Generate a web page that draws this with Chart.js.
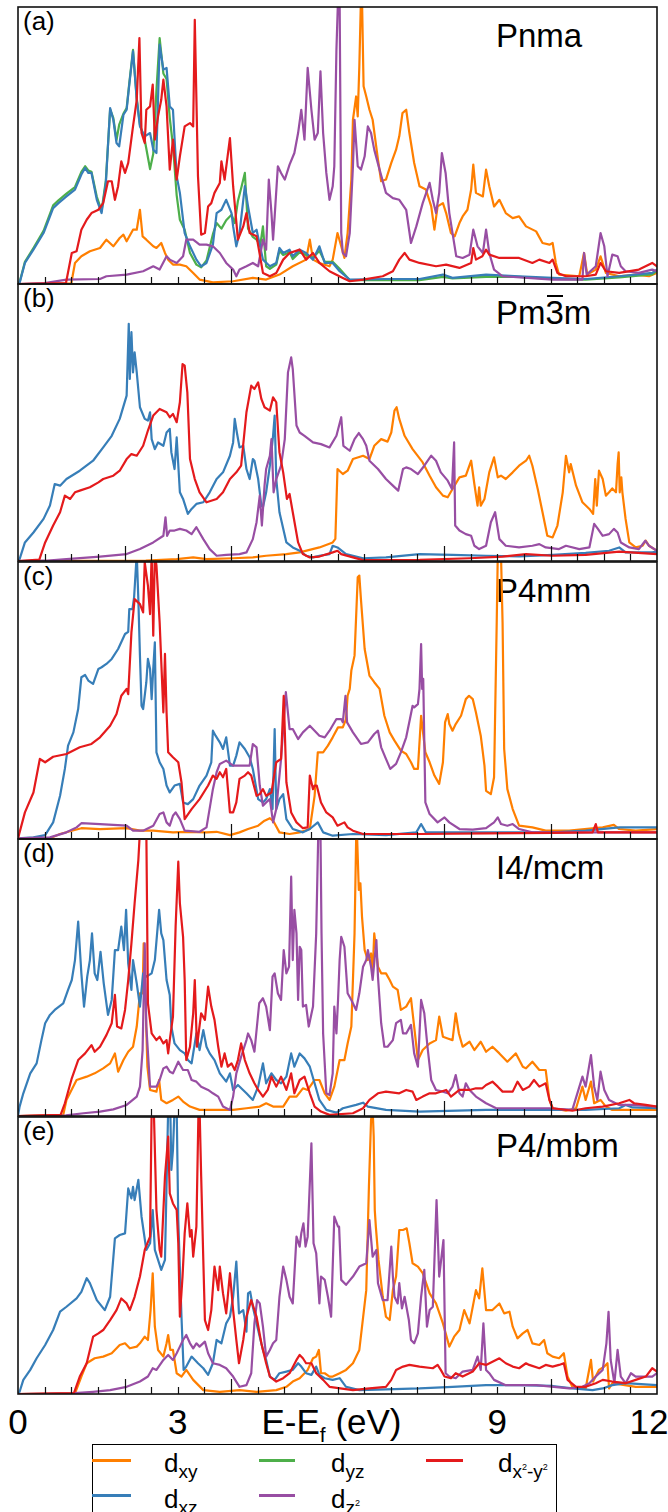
<!DOCTYPE html>
<html>
<head>
<meta charset="utf-8">
<title>Projected d-orbital DOS</title>
<script src="https://cdn.jsdelivr.net/npm/chart.js@4.4.1/dist/chart.umd.min.js"></script>
<style>
  html, body { margin: 0; padding: 0; background: #fff; }
  #fig { position: relative; width: 668px; height: 1512px; overflow: hidden; background: #fff;
         font-family: "Liberation Sans", Arial, sans-serif; color: #000; }
  #fig canvas { position: absolute; left: 0; z-index: 1; }
  .txt { position: absolute; white-space: nowrap; line-height: 1; z-index: 0; }
  .plabel { font-size: 26px; }
  .ptitle { font-size: 33px; }
  .ob { position: relative; }
  .ob::before { content: ""; position: absolute; left: 1px; right: 1px; top: 1px; height: 2px; background: #000; }
  .xt { font-size: 35px; transform: translateX(-50%); }
  .xt .s { font-size: 21px; position: relative; top: 8px; }
  #legendBox { position: absolute; left: 92px; top: 1444px; width: 463px; height: 100px;
               border: 1.5px solid #000; background: #fff; z-index: 2; }
  .hl { position: absolute; height: 3px; z-index: 3; }
  .lg { position: absolute; white-space: nowrap; line-height: 1; font-size: 26px; z-index: 3; }
  .lg .s { font-size: 19px; position: relative; top: 6px; }
  .lg .ss { font-size: 9px; position: relative; top: -8px; }
</style>
</head>
<body>
<div id="fig">
  <div id="legendBox"></div>
  <div class="hl" style="left:92px;top:1459px;width:39px;background:#ff7f00"></div>
  <div class="lg" style="left:164px;top:1450px">d<span class="s">xy</span></div>
  <div class="hl" style="left:259px;top:1459px;width:36px;background:#4daf4a"></div>
  <div class="lg" style="left:331px;top:1450px">d<span class="s">yz</span></div>
  <div class="hl" style="left:426px;top:1459px;width:37px;background:#e41a1c"></div>
  <div class="lg" style="left:498px;top:1450px">d<span class="s">x<span class="ss">2</span>-y<span class="ss">2</span></span></div>
  <div class="hl" style="left:92px;top:1494px;width:39px;background:#377eb8"></div>
  <div class="lg" style="left:164px;top:1486px">d<span class="s">xz</span></div>
  <div class="hl" style="left:259px;top:1494px;width:36px;background:#984ea3"></div>
  <div class="lg" style="left:331px;top:1486px">d<span class="s">z<span class="ss">2</span></span></div>
</div>
<script>
// ---- energy axis ----
const tickLabelValues = [0, 3, 9, 12];
const tickLabels = ['0', '3', '9', '12'];
const axisTitleValue = 6;
const minorTicks = [0.5, 1, 1.5, 2.5, 3, 3.5, 4.5, 5, 5.5, 6, 6.5, 7, 7.5, 8.5, 9, 9.5, 10.5, 11, 11.5];
const majorTicks = [2, 4, 8, 10];

const panelLetters = ['(a)', '(b)', '(c)', '(d)', '(e)'];
const phaseNames = ['Pnma', 'Pm<span class="ob">3</span>m', 'P4mm', 'I4/mcm', 'P4/mbm'];

// ---- (a) Pnma : [E - Ef (eV), PDOS (arb.)] ----
const pnmaXY = [[0,0],[1.0,0.2],[1.07,7.6],[1.19,10.0],[1.35,11.8],[1.54,13.0],[1.66,16.0],[1.79,13.6],[1.91,16.6],[1.98,17.8],[2.04,15.4],[2.16,19.6],[2.23,19.6],[2.29,26.8],[2.34,17.2],[2.41,16.0],[2.54,13.6],[2.6,13.0],[2.69,14.8],[2.76,11.2],[2.82,8.8],[2.91,7.0],[3.04,7.0],[3.16,6.4],[3.29,4.0],[3.41,1.6],[3.66,0.6],[4.04,1.0],[4.41,2.2],[4.66,1.6],[4.91,3.4],[5.16,6.4],[5.41,8.8],[5.48,16.0],[5.54,8.8],[5.66,7.6],[5.85,6.4],[5.91,8.8],[6.0,18.4],[6.07,13.6],[6.13,9.4],[6.19,18.4],[6.26,37.7],[6.29,59.3],[6.35,67.7],[6.38,60.5],[6.41,78.6],[6.44,103],[6.46,103],[6.49,71.4],[6.54,67.7],[6.6,62.9],[6.66,59.3],[6.76,44.9],[6.82,37.1],[6.91,37.7],[7.01,43.7],[7.1,48.5],[7.16,53.3],[7.22,61.7],[7.29,62.9],[7.35,54.5],[7.44,43.7],[7.54,35.3],[7.66,34.1],[7.76,28.0],[7.82,19.6],[7.88,28.0],[7.98,29.2],[8.04,25.6],[8.13,18.4],[8.2,17.2],[8.29,22.0],[8.35,24.4],[8.44,26.8],[8.51,34.1],[8.55,43.1],[8.6,32.9],[8.73,31.6],[8.79,41.3],[8.85,35.3],[8.94,28.0],[9.04,30.4],[9.16,25.6],[9.29,23.8],[9.41,24.4],[9.54,20.8],[9.73,19.0],[9.85,14.8],[9.98,14.2],[10.04,14.8],[10.1,7.6],[10.16,3.4],[10.54,2.8],[10.63,11.2],[10.69,3.4],[10.85,5.2],[10.94,10.0],[11.04,4.0],[11.29,2.8],[11.6,3.4],[11.85,2.8],[12,4.0]];
const pnmaXZ = [[0,0],[0.03,0.4],[0.13,7.6],[0.29,12.4],[0.48,18.4],[0.66,27.4],[0.76,29.2],[0.91,31.6],[1.07,34.1],[1.19,39.5],[1.26,41.9],[1.32,40.1],[1.38,40.1],[1.48,30.4],[1.57,25.6],[1.65,36.5],[1.73,63.5],[1.79,59.3],[1.85,50.9],[1.9,49.7],[1.98,61.1],[2.04,62.9],[2.09,72.0],[2.16,84.0],[2.23,66.5],[2.29,56.9],[2.38,53.3],[2.48,54.5],[2.54,48.5],[2.6,47.3],[2.66,86.4],[2.73,77.4],[2.79,78.0],[2.85,64.1],[2.91,62.9],[2.98,38.9],[3.04,32.9],[3.13,18.4],[3.23,13.6],[3.35,8.8],[3.44,6.4],[3.54,7.6],[3.66,14.2],[3.73,25.6],[3.82,26.8],[3.91,30.4],[4.01,25.6],[4.04,20.8],[4.1,13.6],[4.16,18.4],[4.26,35.3],[4.32,28.0],[4.41,18.4],[4.48,19.6],[4.6,8.8],[4.73,6.4],[4.85,7.6],[4.91,13.0],[4.98,11.2],[5.1,12.4],[5.16,10.0],[5.29,12.4],[5.41,11.2],[5.54,8.8],[5.66,13.6],[5.76,7.6],[5.91,7.6],[6.04,4.6],[6.23,1.6],[6.91,1.8],[7.54,1.8],[7.98,3.4],[8.16,2.2],[8.79,3.4],[9.41,2.8],[10.04,2.2],[10.66,1.8],[11.29,2.8],[11.91,4.0],[12,5.2]];
const pnmaYZ = [[0,0],[0.03,0.6],[0.13,8.0],[0.29,13.0],[0.48,19.2],[0.66,28.4],[0.76,30.2],[0.91,32.6],[1.07,35.0],[1.19,40.5],[1.26,42.5],[1.32,41.0],[1.38,40.5],[1.48,31.5],[1.57,26.5],[1.65,37.5],[1.73,63.0],[1.79,60.0],[1.85,52.0],[1.9,57.5],[1.98,61.5],[2.04,63.5],[2.09,72.5],[2.16,84.5],[2.23,67.0],[2.29,57.5],[2.38,52.0],[2.48,41.5],[2.54,47.0],[2.6,70.0],[2.66,88.8],[2.73,76.0],[2.79,74.0],[2.85,60.0],[2.91,50.0],[2.98,32.0],[3.04,23.2],[3.13,19.6],[3.23,11.2],[3.35,7.0],[3.44,6.0],[3.54,8.5],[3.66,18.0],[3.73,22.0],[3.82,20.0],[3.91,23.0],[4.01,25.0],[4.07,22.0],[4.13,30.0],[4.2,35.3],[4.26,40.1],[4.32,20.0],[4.41,17.0],[4.48,16.0],[4.55,14.0],[4.6,20.8],[4.66,6.4],[4.73,5.5],[4.85,7.0],[4.91,12.0],[4.98,10.5],[5.1,11.5],[5.16,9.0],[5.29,11.5],[5.41,10.5],[5.54,9.5],[5.66,12.0],[5.76,8.0],[5.91,8.0],[6.04,5.5],[6.23,1.4],[6.91,1.4],[7.54,1.4],[7.98,2.6],[8.16,2.0],[8.79,2.6],[9.41,2.6],[10.04,1.8],[10.66,1.6],[11.29,2.4],[11.91,3.5],[12,4.8]];
const pnmaZ2 = [[0,0],[0.5,0.3],[0.91,1.6],[1.54,1.8],[1.66,2.8],[2.04,3.4],[2.35,4.6],[2.54,6.4],[2.66,5.2],[2.79,10.0],[2.85,8.8],[2.98,7.6],[3.1,10.0],[3.16,16.0],[3.29,16.0],[3.41,14.2],[3.54,14.2],[3.66,13.6],[3.79,11.2],[3.91,7.6],[4.04,5.2],[4.1,2.8],[4.16,5.2],[4.29,6.4],[4.41,7.6],[4.51,6.4],[4.6,16.0],[4.66,12.4],[4.71,37.7],[4.76,25.6],[4.79,16.0],[4.82,24.4],[4.88,42.5],[4.94,40.1],[5.01,37.7],[5.1,43.1],[5.19,47.3],[5.26,54.5],[5.32,62.9],[5.38,52.1],[5.44,78.0],[5.51,62.9],[5.57,52.1],[5.63,54.5],[5.68,76.8],[5.73,54.5],[5.79,40.1],[5.85,30.4],[5.91,35.3],[5.94,42.5],[5.98,84.6],[6.01,103],[6.04,103],[6.07,18.4],[6.1,11.2],[6.16,10.0],[6.23,18.4],[6.29,42.5],[6.32,59.3],[6.38,42.5],[6.44,41.3],[6.51,46.1],[6.57,56.9],[6.63,54.5],[6.69,48.5],[6.79,41.3],[6.91,32.9],[7.04,31.0],[7.16,30.4],[7.29,26.8],[7.38,14.8],[7.48,20.8],[7.6,29.2],[7.73,36.5],[7.79,30.4],[7.85,25.6],[7.91,32.9],[7.96,47.3],[8.03,40.1],[8.1,25.6],[8.23,10.0],[8.35,9.4],[8.48,10.6],[8.55,19.6],[8.63,13.6],[8.73,11.2],[8.79,19.6],[8.85,11.2],[8.94,5.2],[9.1,2.8],[10.04,1.6],[10.6,1.6],[10.63,11.2],[10.68,3.4],[10.85,6.4],[10.94,18.4],[11.01,13.6],[11.07,2.8],[11.16,10.6],[11.26,10.0],[11.32,6.4],[11.41,4.6],[11.66,4.0],[11.91,5.2],[12,4.6]];
const pnmaX2Y2 = [[0,0],[0.9,0.3],[1.01,11.2],[1.1,11.8],[1.19,19.6],[1.29,23.2],[1.38,25.6],[1.51,26.8],[1.6,29.2],[1.69,37.1],[1.76,37.1],[1.82,30.4],[1.88,35.3],[1.94,44.3],[2.01,40.1],[2.07,43.7],[2.16,56.9],[2.23,66.5],[2.28,88.8],[2.32,54.5],[2.38,50.9],[2.41,62.9],[2.48,64.1],[2.53,72.0],[2.57,52.1],[2.63,60.5],[2.69,66.5],[2.73,73.8],[2.79,64.1],[2.85,41.3],[2.91,52.1],[2.98,37.7],[3.04,46.1],[3.13,56.9],[3.23,58.1],[3.29,56.9],[3.32,95.4],[3.38,38.9],[3.44,17.8],[3.51,18.4],[3.57,28.0],[3.63,29.2],[3.69,32.9],[3.79,36.5],[3.82,44.3],[3.88,37.7],[3.98,52.7],[4.04,35.3],[4.13,16.0],[4.23,20.8],[4.29,25.6],[4.35,18.4],[4.48,17.2],[4.6,4.0],[4.73,2.8],[4.85,4.0],[4.98,8.8],[5.1,11.2],[5.29,12.4],[5.41,8.8],[5.54,11.2],[5.66,7.6],[5.85,4.6],[6.1,2.2],[6.23,1.0],[6.48,1.6],[6.85,2.8],[7.04,4.6],[7.16,8.8],[7.26,11.2],[7.35,8.8],[7.54,7.6],[7.85,6.4],[8.04,7.0],[8.29,5.8],[8.51,7.6],[8.55,13.0],[8.6,8.8],[8.72,10.0],[8.79,12.4],[8.85,10.6],[9.04,9.4],[9.41,9.4],[9.66,7.6],[9.79,8.8],[9.98,7.6],[10.04,8.8],[10.13,4.0],[10.29,2.8],[10.66,2.8],[10.85,3.4],[10.94,7.6],[11.04,4.6],[11.29,4.0],[11.66,5.2],[11.91,7.6],[12,6.4]];

// ---- (b) Pm-3m ----
const pm3mXY = [[0,0],[2.4,0.1],[2.98,0.7],[3.29,1.3],[3.54,0.7],[4.04,1.0],[4.41,1.3],[4.66,1.9],[5.04,2.5],[5.29,3.1],[5.66,4.9],[5.91,6.7],[5.96,8.0],[6.0,33.2],[6.1,31.4],[6.19,32.6],[6.29,36.8],[6.48,38.0],[6.6,36.8],[6.69,41.6],[6.82,44.0],[6.94,43.1],[7.01,46.4],[7.07,54.3],[7.11,55.5],[7.16,51.3],[7.26,45.2],[7.41,40.4],[7.6,35.6],[7.73,30.8],[7.85,26.6],[7.98,23.6],[8.07,23.0],[8.16,26.0],[8.29,30.2],[8.41,30.8],[8.51,36.2],[8.57,27.8],[8.63,20.0],[8.66,26.6],[8.69,20.0],[8.76,22.4],[8.85,32.0],[8.94,37.4],[9.01,30.2],[9.07,30.8],[9.16,29.6],[9.29,32.0],[9.41,34.4],[9.54,36.2],[9.6,38.0],[9.66,34.4],[9.76,26.0],[9.85,17.6],[9.94,9.1],[10.04,8.5],[10.13,12.8],[10.23,24.8],[10.29,38.0],[10.35,32.0],[10.38,35.0],[10.48,27.2],[10.6,21.2],[10.73,18.8],[10.8,17.0],[10.84,29.6],[10.87,20.0],[10.91,32.6],[10.98,29.6],[11.04,23.6],[11.1,24.8],[11.16,26.2],[11.23,24.8],[11.26,35.0],[11.28,39.2],[11.3,24.8],[11.33,30.2],[11.35,24.8],[11.41,15.2],[11.48,6.7],[11.6,4.9],[11.73,5.5],[11.79,7.3],[11.85,5.5],[12,3.7]];
const pm3mXZ = [[0,0],[0.03,0.7],[0.13,6.7],[0.29,10.3],[0.48,15.2],[0.6,20.0],[0.69,27.8],[0.79,27.2],[0.91,29.6],[1.16,32.6],[1.41,36.2],[1.6,41.0],[1.76,45.2],[1.91,51.3],[2.04,59.7],[2.08,85.6],[2.1,65.7],[2.13,82.6],[2.16,68.1],[2.19,75.3],[2.23,68.1],[2.29,55.5],[2.38,51.3],[2.44,50.7],[2.48,53.7],[2.51,44.0],[2.57,40.4],[2.63,42.8],[2.73,41.6],[2.79,46.4],[2.85,47.7],[2.88,39.2],[2.94,33.2],[2.98,44.6],[3.04,24.8],[3.1,22.4],[3.19,17.0],[3.26,18.8],[3.35,20.6],[3.48,21.2],[3.6,24.8],[3.73,29.6],[3.85,32.0],[3.98,38.0],[4.04,42.8],[4.07,51.3],[4.11,46.4],[4.16,41.0],[4.23,41.6],[4.29,33.2],[4.35,29.6],[4.41,36.8],[4.44,36.2],[4.51,29.6],[4.57,20.0],[4.6,19.4],[4.66,24.8],[4.73,34.4],[4.79,45.2],[4.82,52.5],[4.85,29.6],[4.91,17.6],[5.04,6.7],[5.16,4.9],[5.29,3.7],[5.41,1.9],[5.54,1.3],[5.66,1.9],[5.85,2.5],[5.91,5.5],[6.0,4.9],[6.16,2.5],[6.48,1.0],[6.91,1.3],[7.54,2.5],[8.16,2.2],[8.79,1.9],[9.41,1.7],[10.04,2.2],[10.66,2.9],[11.1,3.7],[11.29,4.9],[11.41,3.1],[11.91,3.1],[12,3.4]];
const pm3mZ2 = [[0,0],[0.5,0.1],[0.91,0.7],[1.54,1.6],[2.04,2.5],[2.29,4.3],[2.54,6.7],[2.73,9.1],[2.77,15.8],[2.8,9.1],[2.85,11.0],[2.94,11.0],[3.04,11.6],[3.16,11.0],[3.26,9.7],[3.35,12.2],[3.48,7.9],[3.6,4.3],[3.73,1.9],[3.91,2.2],[4.16,2.5],[4.29,3.1],[4.41,7.9],[4.48,14.0],[4.54,23.6],[4.58,12.8],[4.63,27.2],[4.66,33.2],[4.73,38.0],[4.76,44.0],[4.8,24.8],[4.85,29.6],[4.94,34.4],[5.01,44.0],[5.07,68.1],[5.13,73.5],[5.16,69.3],[5.23,48.9],[5.29,46.4],[5.38,45.2],[5.54,42.8],[5.69,42.2],[5.85,41.0],[5.98,45.2],[6.07,51.9],[6.11,41.6],[6.23,39.8],[6.32,44.0],[6.4,46.2],[6.48,44.0],[6.54,41.6],[6.6,36.2],[6.76,33.2],[6.91,29.6],[7.04,27.2],[7.14,25.4],[7.23,33.2],[7.29,33.8],[7.38,33.2],[7.51,31.4],[7.63,34.4],[7.76,38.0],[7.85,36.2],[7.94,32.0],[8.07,29.0],[8.15,26.0],[8.19,42.8],[8.21,12.8],[8.29,11.0],[8.41,9.7],[8.51,9.1],[8.57,5.5],[8.66,4.3],[8.79,5.5],[8.88,14.0],[8.96,17.6],[9.04,7.9],[9.16,5.5],[9.41,4.9],[9.66,5.5],[9.79,6.1],[9.91,4.9],[10.16,4.3],[10.29,5.5],[10.54,4.3],[10.73,4.9],[10.82,13.4],[10.89,11.6],[10.98,9.1],[11.1,9.7],[11.19,11.6],[11.26,10.3],[11.32,6.7],[11.48,4.9],[11.66,4.3],[11.78,7.3],[11.85,5.5],[12,3.7]];
const pm3mX2Y2 = [[0,0],[0.4,0.5],[0.51,6.7],[0.66,12.8],[0.79,17.6],[0.88,23.6],[0.98,22.4],[1.07,24.8],[1.16,25.4],[1.35,26.6],[1.51,28.4],[1.6,29.6],[1.79,30.8],[1.91,32.6],[2.04,36.8],[2.13,38.6],[2.23,38.0],[2.35,41.6],[2.44,47.1],[2.54,52.5],[2.66,54.9],[2.79,53.7],[2.85,51.9],[2.91,53.1],[2.98,50.1],[3.04,57.3],[3.09,71.1],[3.13,70.5],[3.18,60.9],[3.23,36.8],[3.32,29.6],[3.41,24.8],[3.54,21.2],[3.73,22.4],[3.85,24.8],[3.98,29.6],[4.1,32.0],[4.19,34.4],[4.29,53.7],[4.38,63.3],[4.44,62.1],[4.51,64.5],[4.57,58.5],[4.63,55.5],[4.73,54.3],[4.79,59.1],[4.85,57.3],[4.91,39.2],[4.98,32.0],[5.05,22.4],[5.1,24.2],[5.16,17.6],[5.26,6.7],[5.35,2.5],[5.48,1.3],[5.66,1.6],[5.91,3.1],[6.0,3.7],[6.07,2.5],[6.29,1.3],[6.48,0.3],[7.54,0.4],[8.48,1.0],[9.1,1.6],[9.54,2.5],[10.04,1.9],[10.66,2.2],[11.29,3.4],[12,2.5]];

// ---- (c) P4mm ----
const p4mmXY = [[0,0],[0.6,0.3],[0.79,1.8],[1.01,3.0],[1.19,3.9],[1.54,3.6],[2.04,3.9],[2.29,3.0],[2.54,3.0],[2.91,2.4],[3.16,2.6],[3.54,2.4],[3.73,2.6],[3.98,1.4],[4.16,2.4],[4.32,3.6],[4.51,4.8],[4.63,6.6],[4.73,7.5],[4.8,6.3],[4.91,2.4],[5.1,1.8],[5.29,2.4],[5.48,3.6],[5.57,15.6],[5.63,31.3],[5.73,31.3],[5.82,33.7],[5.91,36.7],[6.01,40.3],[6.1,40.3],[6.16,43.3],[6.19,51.7],[6.23,54.2],[6.26,60.8],[6.32,66.2],[6.38,94.5],[6.41,95.1],[6.44,86.6],[6.51,68.6],[6.6,59.0],[6.69,56.6],[6.79,54.2],[6.88,44.5],[6.98,38.5],[7.07,35.5],[7.19,31.9],[7.29,30.7],[7.38,27.7],[7.44,25.3],[7.51,25.3],[7.57,44.5],[7.65,31.3],[7.73,27.7],[7.82,22.9],[7.91,19.9],[7.98,27.7],[8.02,42.1],[8.07,45.1],[8.1,41.5],[8.16,39.1],[8.22,41.5],[8.32,44.5],[8.41,50.5],[8.47,51.7],[8.54,50.5],[8.6,45.7],[8.69,37.3],[8.76,26.5],[8.79,17.4],[8.88,16.2],[8.94,22.3],[8.99,78.2],[9.01,103],[9.07,103],[9.1,78.2],[9.13,32.5],[9.19,18.0],[9.29,10.8],[9.41,4.8],[9.66,4.2],[9.91,3.0],[10.35,3.0],[10.98,4.2],[11.19,5.1],[11.29,3.6],[11.6,3.0],[12,3.6]];
const p4mmXZ = [[0,0.2],[0.29,0.6],[0.51,1.4],[0.66,6.0],[0.79,15.6],[0.88,25.3],[0.94,33.7],[1.04,38.5],[1.13,46.9],[1.19,58.4],[1.26,59.2],[1.32,57.2],[1.41,56.0],[1.51,61.4],[1.57,62.0],[1.66,63.2],[1.76,65.0],[1.88,68.6],[2.01,74.0],[2.07,74.8],[2.09,83.0],[2.15,83.0],[2.18,87.2],[2.23,103],[2.26,86.6],[2.29,66.2],[2.32,48.1],[2.35,46.9],[2.41,56.6],[2.44,65.0],[2.48,61.4],[2.51,50.5],[2.54,61.4],[2.57,71.0],[2.6,31.3],[2.66,27.7],[2.73,25.3],[2.79,19.3],[2.85,16.8],[2.94,19.3],[3.04,19.9],[3.1,13.2],[3.19,12.6],[3.29,14.4],[3.41,19.3],[3.54,22.9],[3.63,27.7],[3.66,39.1],[3.71,37.3],[3.79,34.9],[3.85,32.5],[3.91,36.7],[3.98,26.5],[4.04,26.5],[4.1,30.1],[4.16,34.9],[4.26,32.5],[4.35,29.5],[4.41,25.3],[4.51,14.4],[4.6,13.2],[4.66,14.4],[4.73,18.0],[4.78,10.8],[4.82,39.7],[4.85,10.8],[4.91,14.4],[4.98,16.2],[5.04,7.2],[5.16,3.6],[5.35,2.4],[5.48,3.6],[5.63,6.0],[5.73,2.4],[5.91,1.2],[6.29,1.8],[6.91,1.4],[7.48,2.4],[7.57,5.4],[7.66,2.4],[8.79,2.4],[10.04,2.4],[10.66,3.0],[11.29,4.2],[12,4.2]];
const p4mmZ2 = [[0,0.2],[0.6,0.6],[0.91,2.4],[1.1,4.2],[1.19,5.7],[1.54,5.4],[2.04,4.8],[2.16,3.0],[2.35,3.0],[2.54,4.8],[2.66,9.0],[2.73,9.6],[2.79,6.0],[2.85,4.8],[2.91,8.4],[2.96,9.6],[3.04,7.2],[3.13,3.0],[3.41,2.6],[3.54,4.2],[3.66,18.0],[3.73,24.1],[3.79,27.1],[3.91,28.3],[4.04,26.5],[4.29,26.5],[4.35,26.5],[4.41,34.3],[4.48,33.1],[4.54,19.3],[4.6,12.0],[4.66,13.2],[4.73,14.4],[4.79,6.0],[4.85,10.8],[4.94,28.9],[5.03,53.0],[5.1,39.7],[5.16,39.7],[5.26,36.1],[5.35,38.5],[5.48,40.9],[5.57,39.1],[5.66,37.3],[5.76,36.7],[5.85,39.1],[5.98,43.3],[6.07,43.3],[6.1,42.1],[6.15,51.7],[6.18,42.1],[6.29,38.5],[6.44,34.3],[6.57,34.9],[6.69,37.9],[6.76,39.1],[6.82,33.1],[6.91,28.9],[6.99,25.3],[7.1,27.1],[7.19,31.3],[7.29,36.7],[7.36,43.3],[7.41,48.1],[7.44,47.5],[7.51,48.7],[7.54,54.2],[7.57,70.4],[7.59,54.2],[7.61,57.8],[7.65,13.2],[7.73,9.0],[7.88,6.0],[8.01,7.8],[8.1,6.0],[8.29,3.6],[8.54,3.4],[8.79,3.9],[8.94,6.0],[9.01,7.8],[9.07,5.4],[9.19,4.8],[9.29,5.4],[9.41,3.6],[9.66,2.4],[12,2.4]];
const p4mmX2Y2 = [[0,0],[0.03,2.4],[0.13,9.6],[0.29,16.8],[0.41,28.9],[0.51,27.7],[0.66,29.7],[0.91,30.7],[1.16,33.1],[1.38,34.3],[1.54,36.7],[1.73,40.9],[1.85,45.1],[1.94,51.7],[2.04,54.2],[2.07,52.3],[2.13,74.6],[2.19,86.6],[2.29,84.8],[2.35,81.8],[2.38,99.9],[2.44,91.5],[2.48,81.2],[2.51,103],[2.54,73.4],[2.57,103],[2.6,98.7],[2.66,78.2],[2.73,45.7],[2.76,66.8],[2.79,45.7],[2.82,31.3],[2.91,29.5],[3.01,27.7],[3.07,20.5],[3.13,7.2],[3.26,10.8],[3.41,14.4],[3.57,19.3],[3.66,22.9],[3.73,21.7],[3.79,24.1],[3.85,22.3],[3.91,25.3],[3.98,9.6],[4.04,9.6],[4.1,13.2],[4.16,21.7],[4.26,22.9],[4.32,24.1],[4.38,22.9],[4.48,15.6],[4.54,16.2],[4.6,18.0],[4.66,15.6],[4.76,16.8],[4.82,24.1],[4.85,27.7],[4.94,28.9],[4.99,51.7],[5.04,20.5],[5.13,9.6],[5.23,6.0],[5.35,3.9],[5.44,4.2],[5.48,22.9],[5.54,18.0],[5.57,19.3],[5.61,19.3],[5.69,13.2],[5.79,9.6],[5.91,7.8],[6.0,4.8],[6.13,6.0],[6.19,4.2],[6.29,3.0],[6.48,1.8],[7.54,1.8],[8.79,2.0],[10.04,2.2],[10.79,2.4],[10.85,5.4],[10.89,2.4],[12,2.4]];

// ---- (d) I4/mcm ----
const i4mcmXY = [[0,0],[0.85,0.4],[0.91,5.8],[1.1,13.0],[1.29,14.2],[1.44,15.4],[1.6,17.2],[1.73,19.0],[1.82,22.6],[1.88,16.0],[1.98,20.2],[2.07,23.2],[2.16,25.0],[2.23,32.3],[2.29,44.3],[2.34,44.3],[2.36,62.3],[2.39,44.3],[2.43,17.8],[2.48,9.4],[2.6,8.8],[2.65,13.0],[2.69,5.8],[2.79,4.6],[2.91,5.8],[3.01,7.0],[3.1,5.2],[3.23,3.4],[3.41,2.2],[4.04,2.2],[4.29,2.8],[4.54,3.4],[4.66,4.6],[4.79,3.4],[4.98,3.4],[5.1,7.0],[5.23,7.0],[5.35,10.0],[5.44,9.4],[5.57,13.0],[5.66,13.0],[5.76,8.2],[5.85,5.8],[5.94,10.6],[6.04,20.2],[6.13,20.2],[6.19,26.2],[6.26,32.3],[6.32,65.9],[6.35,99.6],[6.37,99.6],[6.4,81.6],[6.43,84.0],[6.46,72.0],[6.51,59.9],[6.57,56.3],[6.63,58.7],[6.66,51.5],[6.69,65.9],[6.76,53.9],[6.82,51.5],[6.91,51.5],[6.98,49.1],[7.04,46.7],[7.13,45.5],[7.19,38.3],[7.29,39.5],[7.38,42.5],[7.44,32.3],[7.51,20.2],[7.6,23.8],[7.73,26.2],[7.85,27.4],[7.91,35.9],[7.98,28.6],[8.07,28.0],[8.16,27.4],[8.22,37.1],[8.28,29.8],[8.35,25.0],[8.48,26.8],[8.57,23.8],[8.69,26.8],[8.79,23.2],[8.91,25.0],[9.04,22.6],[9.19,19.6],[9.35,22.6],[9.48,17.8],[9.54,17.2],[9.66,19.6],[9.79,16.6],[9.91,16.6],[9.98,5.8],[10.04,2.8],[10.29,1.9],[10.48,2.8],[10.6,10.6],[10.66,5.8],[10.76,12.4],[10.82,4.6],[10.94,5.8],[11.04,3.4],[11.16,2.2],[12,2.2]];
const i4mcmXZ = [[0,0],[0.03,3.4],[0.1,8.2],[0.23,15.4],[0.35,19.0],[0.44,27.4],[0.51,33.5],[0.6,36.5],[0.69,38.3],[0.85,40.7],[0.94,45.5],[1.01,49.1],[1.07,56.3],[1.13,70.2],[1.19,51.5],[1.24,39.5],[1.3,50.3],[1.35,56.3],[1.39,65.9],[1.44,51.5],[1.49,49.1],[1.55,59.3],[1.61,47.9],[1.69,36.5],[1.76,41.9],[1.82,59.9],[1.88,59.9],[1.94,68.4],[1.99,59.9],[2.03,74.4],[2.07,55.1],[2.13,45.5],[2.16,56.3],[2.23,47.9],[2.29,39.5],[2.35,51.5],[2.41,50.3],[2.51,51.5],[2.57,56.3],[2.65,74.4],[2.69,65.9],[2.73,63.5],[2.79,49.1],[2.85,43.7],[2.88,32.3],[2.94,26.2],[3.04,23.8],[3.13,22.6],[3.19,20.2],[3.26,19.0],[3.35,29.8],[3.41,23.8],[3.48,31.0],[3.54,25.0],[3.6,22.6],[3.69,20.2],[3.79,15.4],[3.91,12.4],[3.98,15.4],[4.04,9.4],[4.13,11.2],[4.29,8.2],[4.41,5.8],[4.51,10.6],[4.6,19.0],[4.66,11.8],[4.76,15.4],[4.85,13.0],[4.94,11.8],[5.04,14.2],[5.13,22.6],[5.19,17.8],[5.29,22.6],[5.38,20.8],[5.48,17.8],[5.57,11.8],[5.66,5.8],[5.79,2.2],[5.98,1.2],[6.1,2.8],[6.35,4.0],[6.48,4.8],[6.57,3.4],[6.91,2.2],[7.54,1.6],[8.79,2.2],[10.66,2.2],[11.29,2.8],[11.41,4.0],[11.54,3.1],[12,2.8]];
const i4mcmZ2 = [[0,0],[0.9,0.2],[1.23,1.0],[1.54,1.6],[1.79,2.4],[2.04,4.0],[2.23,7.0],[2.29,10.6],[2.34,23.8],[2.38,62.3],[2.41,32.3],[2.48,10.6],[2.6,10.6],[2.66,13.0],[2.73,17.2],[2.79,17.8],[2.85,16.0],[2.91,15.4],[3.01,19.6],[3.1,16.6],[3.19,16.6],[3.26,13.0],[3.35,12.4],[3.44,10.6],[3.57,9.4],[3.66,8.2],[3.76,7.0],[3.85,3.4],[3.98,2.2],[4.04,7.0],[4.1,15.4],[4.19,21.4],[4.29,27.4],[4.32,29.8],[4.38,27.4],[4.44,23.2],[4.53,40.7],[4.6,42.5],[4.66,39.5],[4.73,31.0],[4.78,50.3],[4.82,51.5],[4.88,44.3],[4.94,41.9],[4.99,59.9],[5.04,51.5],[5.09,53.9],[5.13,86.4],[5.16,56.3],[5.19,74.4],[5.23,65.9],[5.26,41.9],[5.29,61.1],[5.32,59.9],[5.35,39.5],[5.41,40.1],[5.46,32.3],[5.54,39.5],[5.6,65.9],[5.64,103],[5.68,103],[5.7,65.9],[5.73,29.8],[5.79,8.2],[5.85,7.6],[5.91,15.4],[5.94,39.5],[5.98,29.8],[6.01,41.9],[6.04,56.3],[6.07,64.7],[6.13,61.1],[6.19,44.3],[6.26,41.9],[6.35,38.3],[6.41,44.3],[6.48,53.9],[6.54,56.3],[6.57,59.9],[6.63,53.9],[6.66,49.1],[6.73,63.5],[6.76,50.3],[6.82,33.5],[6.88,25.0],[6.94,25.0],[7.04,27.4],[7.1,33.5],[7.19,34.7],[7.23,29.8],[7.29,29.8],[7.38,32.9],[7.44,22.6],[7.51,17.8],[7.57,41.9],[7.63,37.1],[7.69,25.0],[7.76,13.0],[7.85,9.4],[7.98,8.8],[8.07,8.2],[8.16,10.6],[8.22,14.8],[8.29,8.2],[8.35,7.0],[8.41,11.8],[8.48,9.4],[8.6,7.0],[8.79,4.6],[8.98,2.8],[9.98,2.8],[10.41,2.2],[10.6,14.2],[10.66,10.6],[10.76,22.0],[10.82,10.6],[10.88,5.8],[10.94,16.0],[11.01,9.4],[11.1,5.8],[11.29,4.0],[11.54,4.0],[12,3.4]];
const i4mcmX2Y2 = [[0,0],[0.8,0.4],[0.88,4.6],[1.01,13.6],[1.13,20.2],[1.26,22.6],[1.38,25.6],[1.44,23.2],[1.54,25.0],[1.66,29.2],[1.76,33.5],[1.82,43.7],[1.86,32.3],[1.94,31.6],[2.01,38.3],[2.07,49.1],[2.13,62.3],[2.19,76.8],[2.26,92.4],[2.29,103],[2.41,103],[2.44,40.7],[2.51,29.8],[2.6,27.4],[2.66,28.6],[2.73,26.2],[2.79,27.4],[2.82,22.6],[2.85,27.4],[2.91,35.9],[2.96,68.4],[3.01,91.8],[3.04,76.8],[3.1,64.7],[3.13,49.1],[3.16,20.2],[3.23,25.0],[3.29,37.1],[3.32,49.1],[3.36,25.0],[3.44,37.1],[3.51,34.7],[3.57,46.7],[3.63,39.5],[3.69,34.7],[3.76,25.0],[3.82,17.8],[3.88,22.6],[3.94,17.8],[4.01,19.0],[4.07,16.6],[4.13,20.2],[4.19,26.2],[4.26,20.2],[4.35,15.4],[4.44,11.8],[4.51,9.4],[4.6,7.0],[4.69,9.4],[4.76,14.2],[4.85,10.6],[4.94,14.2],[5.04,9.4],[5.13,15.4],[5.19,8.2],[5.29,13.0],[5.38,14.2],[5.48,8.2],[5.57,3.4],[5.69,1.6],[5.85,0.4],[6.29,1.0],[6.48,2.8],[6.6,5.8],[6.76,8.2],[6.91,8.8],[7.16,8.2],[7.29,9.4],[7.41,8.8],[7.48,5.8],[7.6,7.0],[7.73,8.2],[7.85,8.2],[8.04,9.4],[8.13,7.0],[8.29,9.4],[8.48,9.4],[8.6,10.0],[8.72,10.0],[8.79,11.2],[8.91,12.4],[9.01,10.6],[9.1,8.8],[9.29,8.8],[9.38,12.4],[9.48,9.4],[9.6,10.6],[9.69,13.0],[9.79,10.6],[9.91,11.8],[9.98,5.8],[10.04,2.8],[10.41,1.9],[10.66,2.8],[10.98,3.4],[11.29,4.6],[11.48,5.8],[11.57,4.6],[11.79,4.0],[12,3.4]];

// ---- (e) P4/mbm ----
const p4mbmXY = [[0,0],[1.07,0.2],[1.19,6.3],[1.29,11.1],[1.44,12.9],[1.6,13.5],[1.76,14.7],[1.91,17.7],[2.01,18.3],[2.1,16.5],[2.23,17.1],[2.29,18.3],[2.38,20.7],[2.44,19.5],[2.49,30.3],[2.53,43.6],[2.57,24.3],[2.63,15.9],[2.73,13.5],[2.79,18.3],[2.82,21.3],[2.86,15.9],[2.91,15.9],[2.98,7.5],[3.07,6.3],[3.16,8.7],[3.29,5.1],[3.48,1.4],[3.79,0.8],[4.16,1.4],[4.48,0.8],[4.85,1.4],[5.04,2.6],[5.16,4.5],[5.29,5.7],[5.44,8.7],[5.54,12.9],[5.6,13.5],[5.65,15.9],[5.69,7.5],[5.76,7.5],[5.85,6.3],[5.91,6.3],[6.04,7.5],[6.16,8.7],[6.29,11.1],[6.41,15.9],[6.54,37.5],[6.59,74.8],[6.63,98.9],[6.66,103],[6.68,92.9],[6.7,66.4],[6.72,60.4],[6.77,48.4],[6.85,35.1],[6.91,27.9],[6.98,26.7],[7.04,37.5],[7.1,42.4],[7.16,59.2],[7.23,59.2],[7.3,59.8],[7.35,54.4],[7.41,47.2],[7.51,46.0],[7.6,43.6],[7.73,36.3],[7.85,32.7],[7.98,25.5],[8.1,17.1],[8.19,20.7],[8.29,23.1],[8.38,30.3],[8.48,25.5],[8.6,37.5],[8.66,34.5],[8.72,45.4],[8.79,30.3],[8.91,30.3],[9.04,32.7],[9.13,29.1],[9.23,29.7],[9.29,24.3],[9.38,20.1],[9.48,21.9],[9.57,23.1],[9.66,18.3],[9.79,17.7],[9.88,19.5],[9.94,14.7],[10.04,13.5],[10.16,12.9],[10.25,14.7],[10.32,6.3],[10.41,2.6],[10.66,2.0],[10.76,12.3],[10.8,4.5],[10.91,8.7],[11.01,9.9],[11.07,11.1],[11.1,2.0],[11.16,3.9],[11.6,2.6],[12,2.6]];
const p4mbmXZ = [[0,0],[0.03,0.8],[0.1,5.1],[0.23,8.7],[0.35,12.9],[0.51,17.7],[0.66,23.1],[0.79,29.7],[0.91,31.5],[1.1,34.5],[1.19,36.9],[1.29,41.8],[1.35,40.0],[1.48,33.9],[1.63,30.3],[1.73,35.1],[1.82,56.2],[1.91,57.4],[2.01,58.0],[2.07,74.2],[2.13,70.6],[2.16,74.8],[2.19,70.0],[2.26,77.3],[2.32,64.0],[2.41,52.0],[2.48,54.4],[2.53,66.4],[2.57,52.0],[2.63,48.4],[2.69,44.8],[2.76,48.4],[2.82,103],[2.86,103],[2.88,80.9],[2.91,88.1],[2.94,103],[2.98,103],[3.01,62.8],[3.07,27.9],[3.11,8.7],[3.16,9.9],[3.26,13.5],[3.38,11.1],[3.48,9.3],[3.57,6.9],[3.66,11.1],[3.73,19.5],[3.82,18.3],[3.91,25.5],[3.98,27.9],[4.04,35.1],[4.1,47.8],[4.15,29.1],[4.23,30.3],[4.29,22.5],[4.32,36.3],[4.36,36.9],[4.41,31.5],[4.48,25.5],[4.54,20.7],[4.6,15.9],[4.66,12.3],[4.73,6.3],[4.82,5.1],[4.91,7.5],[5.04,8.1],[5.16,8.7],[5.26,11.1],[5.32,9.9],[5.41,7.5],[5.51,6.9],[5.6,9.9],[5.66,6.9],[5.76,5.7],[5.91,5.1],[6.04,5.7],[6.16,2.6],[6.41,1.4],[6.91,1.7],[7.54,2.0],[8.16,2.6],[8.79,3.2],[9.41,3.2],[10.04,2.9],[10.41,2.0],[10.79,1.4],[10.98,2.0],[11.16,3.2],[11.41,3.9],[12,3.2]];
const p4mbmZ2 = [[0,0],[1.0,0.2],[1.41,0.8],[1.73,1.4],[2.04,2.6],[2.29,4.5],[2.44,6.3],[2.53,9.3],[2.6,8.7],[2.73,12.3],[2.82,14.1],[2.91,12.3],[2.98,14.7],[3.04,17.1],[3.1,19.5],[3.16,21.3],[3.23,18.3],[3.29,16.5],[3.35,18.3],[3.41,17.1],[3.51,18.9],[3.57,14.7],[3.66,11.1],[3.79,10.5],[3.91,9.3],[4.04,6.3],[4.16,2.6],[4.29,3.2],[4.38,7.5],[4.44,25.5],[4.49,33.9],[4.54,32.7],[4.6,24.3],[4.66,13.5],[4.73,15.9],[4.79,18.3],[4.85,19.5],[4.91,35.1],[4.98,46.0],[5.04,41.2],[5.1,35.1],[5.16,32.7],[5.23,56.8],[5.29,53.2],[5.32,58.0],[5.36,61.6],[5.4,53.2],[5.44,56.8],[5.51,90.5],[5.55,54.4],[5.6,50.8],[5.66,32.7],[5.69,42.4],[5.76,41.2],[5.82,35.1],[5.88,27.9],[5.94,64.0],[6.01,60.4],[6.03,60.4],[6.07,41.2],[6.16,39.4],[6.29,42.4],[6.41,46.0],[6.54,47.2],[6.6,62.8],[6.66,49.6],[6.73,52.0],[6.76,40.0],[6.85,33.9],[6.94,33.9],[7.01,53.2],[7.04,42.4],[7.07,35.1],[7.13,32.7],[7.16,40.0],[7.21,30.9],[7.26,35.1],[7.34,26.7],[7.38,19.5],[7.44,18.3],[7.51,21.9],[7.57,35.1],[7.63,44.8],[7.68,24.3],[7.73,30.3],[7.79,31.5],[7.86,70.0],[7.91,42.4],[7.99,55.6],[8.03,7.5],[8.1,6.3],[8.22,5.7],[8.35,8.1],[8.54,8.7],[8.63,13.5],[8.69,8.7],[8.74,25.5],[8.79,8.7],[8.85,7.5],[8.94,5.1],[9.16,3.2],[9.73,3.2],[10.35,2.0],[10.6,2.6],[10.73,3.9],[10.85,6.3],[10.98,8.7],[11.05,18.3],[11.09,29.7],[11.13,12.3],[11.2,3.9],[11.26,15.9],[11.32,6.3],[11.41,3.9],[11.51,7.5],[11.6,6.3],[11.91,6.3],[12,7.5]];
const p4mbmX2Y2 = [[0,0],[1.05,0.3],[1.16,6.3],[1.29,11.1],[1.41,20.7],[1.51,21.9],[1.6,23.1],[1.73,26.7],[1.85,30.3],[1.94,34.5],[2.04,32.7],[2.1,30.3],[2.19,35.1],[2.29,42.4],[2.38,52.0],[2.48,56.8],[2.51,103],[2.55,103],[2.6,66.4],[2.66,52.0],[2.69,49.6],[2.76,78.5],[2.82,92.9],[2.85,72.4],[2.91,68.8],[2.98,66.4],[3.01,54.4],[3.04,27.9],[3.09,42.4],[3.13,58.0],[3.18,68.8],[3.23,56.8],[3.26,59.2],[3.29,49.6],[3.35,60.4],[3.39,103],[3.41,103],[3.44,78.5],[3.48,48.4],[3.51,26.7],[3.57,23.1],[3.63,30.3],[3.69,46.0],[3.76,37.5],[3.79,46.0],[3.85,36.3],[3.91,29.1],[3.98,43.6],[4.04,30.3],[4.1,19.5],[4.15,11.1],[4.23,19.5],[4.29,27.9],[4.38,33.9],[4.48,27.9],[4.57,18.3],[4.66,11.1],[4.73,6.3],[4.85,4.5],[4.98,5.7],[5.1,7.5],[5.23,12.3],[5.29,14.1],[5.35,12.9],[5.41,11.1],[5.51,11.1],[5.6,7.5],[5.73,5.1],[5.85,2.6],[6.29,1.4],[6.6,2.0],[6.91,2.6],[7.01,5.1],[7.1,8.7],[7.23,9.9],[7.35,10.5],[7.54,9.9],[7.79,9.3],[7.88,10.5],[7.94,8.7],[8.01,6.3],[8.13,5.7],[8.22,7.5],[8.35,6.3],[8.54,8.1],[8.66,11.1],[8.79,10.5],[9.04,12.9],[9.16,11.1],[9.29,9.9],[9.41,9.3],[9.54,11.1],[9.6,10.5],[9.79,9.3],[9.91,10.5],[10.04,9.9],[10.16,10.5],[10.25,11.1],[10.32,5.1],[10.48,2.6],[10.66,2.6],[10.85,3.9],[10.98,5.1],[11.16,4.5],[11.41,3.9],[11.6,5.1],[11.79,6.3],[11.91,9.3],[12,8.1]];

// ---- assembly ----
const orbitalColors = { xy: '#ff7f00', xz: '#377eb8', yz: '#4daf4a', z2: '#984ea3', x2y2: '#e41a1c' };
// first entry ends up drawn on top
const drawOrder = ['x2y2', 'z2', 'xz', 'yz', 'xy'];
const panelSeries = [
  { xy: pnmaXY, xz: pnmaXZ, yz: pnmaYZ, z2: pnmaZ2, x2y2: pnmaX2Y2 },
  { xy: pm3mXY, xz: pm3mXZ, z2: pm3mZ2, x2y2: pm3mX2Y2 },
  { xy: p4mmXY, xz: p4mmXZ, z2: p4mmZ2, x2y2: p4mmX2Y2 },
  { xy: i4mcmXY, xz: i4mcmXZ, z2: i4mcmZ2, x2y2: i4mcmX2Y2 },
  { xy: p4mbmXY, xz: p4mbmXZ, z2: p4mbmZ2, x2y2: p4mbmX2Y2 }
];

const FIG_W = 668, PLOT_LEFT = 18, PLOT_RIGHT = 657;
const PANEL_TOPS = [7, 284, 562, 839, 1117];
const PANEL_H = 277, PAD = 10;

// frame + inward bottom ticks, drawn from the x scale
const framePlugin = {
  id: 'panelFrame',
  afterDatasetsDraw(chart) {
    const { ctx, chartArea: a } = chart;
    const xs = chart.scales.x;
    ctx.save();
    ctx.strokeStyle = '#111';
    ctx.lineWidth = 1.2;
    ctx.beginPath();
    minorTicks.forEach(v => { const p = Math.round(xs.getPixelForValue(v)) + 0.5; ctx.moveTo(p, a.bottom); ctx.lineTo(p, a.bottom - 7); });
    majorTicks.forEach(v => { const p = Math.round(xs.getPixelForValue(v)) + 0.5; ctx.moveTo(p, a.bottom); ctx.lineTo(p, a.bottom - 15); });
    ctx.stroke();
    ctx.lineWidth = 1.6;
    ctx.strokeRect(a.left, a.top, a.right - a.left, a.bottom - a.top);
    ctx.restore();
  }
};

const fig = document.getElementById('fig');
const charts = [];

panelSeries.forEach((series, i) => {
  const top = PANEL_TOPS[i];

  const lab = document.createElement('div');
  lab.className = 'txt plabel';
  lab.style.left = '23px';
  lab.style.top = (top + 1) + 'px';
  lab.textContent = panelLetters[i];
  fig.appendChild(lab);

  const ttl = document.createElement('div');
  ttl.className = 'txt ptitle';
  ttl.style.left = '496px';
  ttl.style.top = (top + 12) + 'px';
  ttl.innerHTML = phaseNames[i];
  fig.appendChild(ttl);

  const cv = document.createElement('canvas');
  cv.width = FIG_W;
  cv.height = PANEL_H + 2 * PAD;
  cv.style.top = (top - PAD) + 'px';
  fig.appendChild(cv);

  const datasets = drawOrder.filter(k => series[k]).map(k => ({
    label: k,
    data: series[k],
    borderColor: orbitalColors[k],
    borderWidth: 2.2,
    borderJoinStyle: 'round',
    borderCapStyle: 'round',
    pointRadius: 0,
    tension: 0,
    fill: false,
    clip: 0
  }));

  charts.push(new Chart(cv, {
    type: 'line',
    data: { datasets },
    options: {
      responsive: false,
      maintainAspectRatio: false,
      animation: false,
      devicePixelRatio: 1,
      events: [],
      layout: { padding: { left: PLOT_LEFT, right: FIG_W - PLOT_RIGHT, top: PAD, bottom: PAD } },
      scales: {
        x: { type: 'linear', min: 0, max: 12, display: false },
        y: { type: 'linear', min: 0, max: 100, display: false }
      },
      plugins: { legend: { display: false }, tooltip: { enabled: false } }
    },
    plugins: [framePlugin]
  }));
});

// energy tick labels and axis title under the last panel
const xs = charts[charts.length - 1].scales.x;
tickLabelValues.forEach((v, j) => {
  const d = document.createElement('div');
  d.className = 'txt xt';
  // keep the last label inside the figure edge
  d.style.left = Math.min(xs.getPixelForValue(v), FIG_W - 19) + 'px';
  d.style.top = '1404px';
  d.textContent = tickLabels[j];
  fig.appendChild(d);
});
const ttlX = document.createElement('div');
ttlX.className = 'txt xt';
ttlX.style.left = (xs.getPixelForValue(axisTitleValue) - 6) + 'px';
ttlX.style.top = '1404px';
ttlX.innerHTML = 'E-E<span class="s">f</span> (eV)';
fig.appendChild(ttlX);
</script>
</body>
</html>
